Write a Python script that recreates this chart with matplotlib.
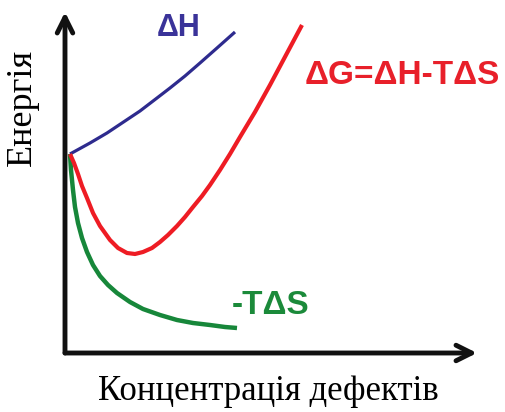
import matplotlib
matplotlib.use('Agg')
import matplotlib.pyplot as plt

# points (concentration, energy), arbitrary units
dh_x = [5, 25, 42, 60, 75, 92, 105, 120, 135, 152, 170]
dh_y = [199, 210, 220, 232, 242, 255, 265, 277, 290, 305, 321]

dg_x = [5, 9, 13, 17, 22, 28, 35, 45, 53, 62, 70, 78, 87, 95, 103, 112,
        120, 128, 137, 145, 155, 165, 175, 190, 205, 221, 237]
dg_y = [199, 190, 179, 167, 155, 140, 127, 113, 105, 100, 99, 101, 105,
        111, 118, 127, 136, 146, 157, 168, 183, 199, 216, 241, 268, 298, 328]

ts_x = [5, 6, 8, 10, 13, 17, 22, 28, 35, 43, 52, 65, 78, 95, 112, 128,
        145, 160, 172]
ts_y = [199, 183, 163, 146, 130, 115, 101, 88, 77, 68, 60, 51, 44, 38, 33,
        30, 28, 26, 25]

fig = plt.figure(figsize=(5.06, 4.12), dpi=100)
ax = fig.add_axes([65 / 506, 1 - 353 / 412, 412 / 506, 341 / 412])
ax.set_xlim(0, 412)
ax.set_ylim(0, 341)
ax.axis('off')

ax.plot(dh_x, dh_y, color='#2e2b8e', lw=2.3, solid_capstyle='butt',
        solid_joinstyle='round')
ax.plot(ts_x, ts_y, color='#17873a', lw=3.2, solid_capstyle='butt',
        solid_joinstyle='round')
ax.plot(dg_x, dg_y, color='#ee1c24', lw=3.0, solid_capstyle='butt',
        solid_joinstyle='round')

# axes arrows
arrow = dict(arrowstyle='->', lw=3.5, color='#111111', mutation_scale=28,
             shrinkA=0, shrinkB=0)
ax.annotate('', xy=(1, 0), xytext=(0, 0), xycoords='axes fraction',
            arrowprops=arrow)
ax.annotate('', xy=(0, 1), xytext=(0, 0), xycoords='axes fraction',
            arrowprops=arrow)

sans = 'Liberation Sans'
ax.text(114, 325, 'ΔH', color='#3a3399', fontsize=22, fontweight='bold',
        family=sans, ha='center', va='center')
ax.text(337, 278, 'ΔG=ΔH-TΔS', color='#e8202a', fontsize=24,
        fontweight='bold', family=sans, ha='center', va='center')
ax.text(206, 47, '-TΔS', color='#1b8a3a', fontsize=24, fontweight='bold',
        family=sans, ha='center', va='center')

serif = 'Liberation Serif'
fig.text(268 / 506, 1 - 392 / 412, 'Концентрація дефектів', fontsize=25,
         family=serif, ha='center', va='center')
fig.text(22 / 506, 1 - 107 / 412, 'Енергія', fontsize=26, family=serif,
         rotation=90, ha='center', va='center')

fig.savefig('out.png', dpi=100)
